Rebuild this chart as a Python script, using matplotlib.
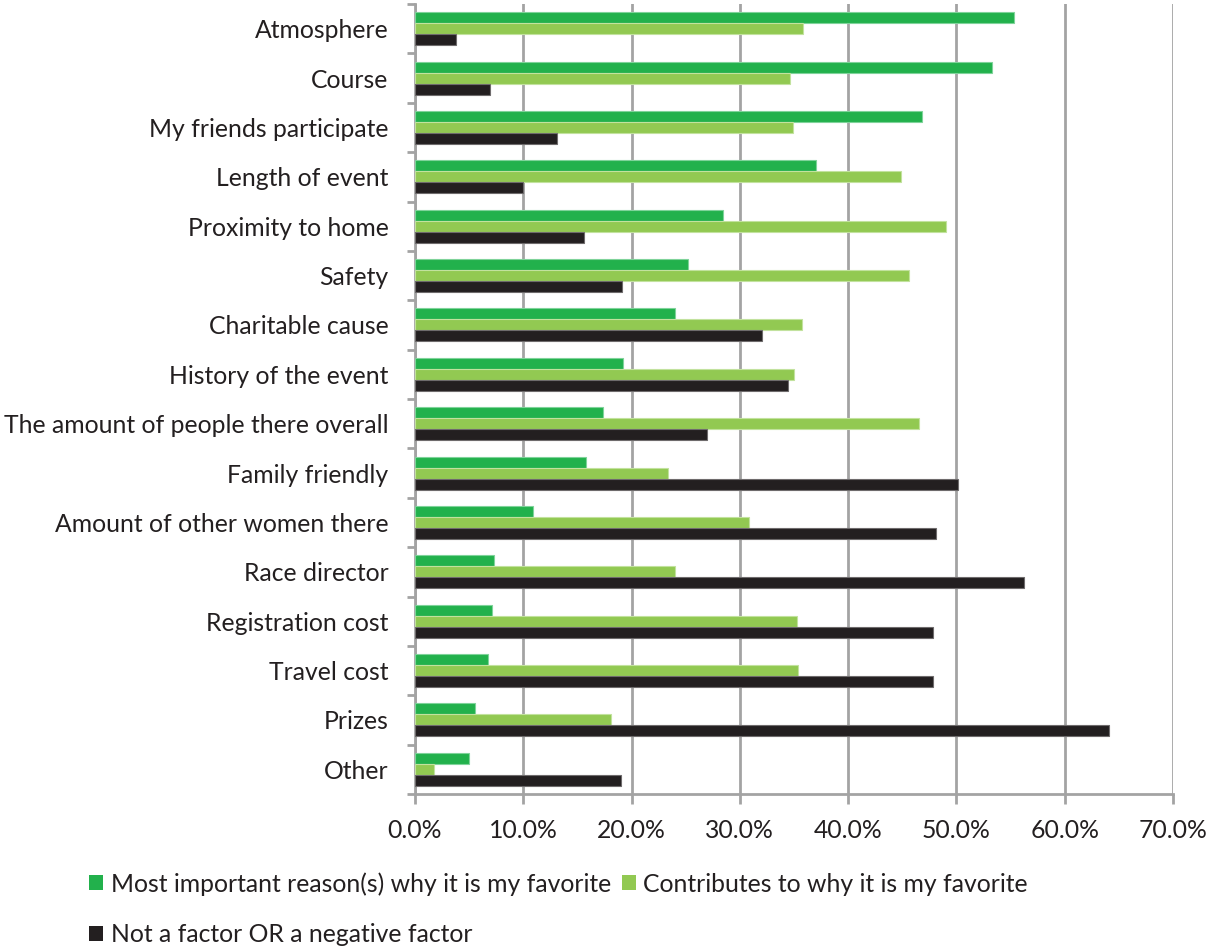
import matplotlib
matplotlib.use("Agg")
import matplotlib.pyplot as plt
import numpy as np
from matplotlib.patches import Patch
from matplotlib.ticker import FuncFormatter, FixedLocator

categories = [
    "Atmosphere", "Course", "My friends participate", "Length of event",
    "Proximity to home", "Safety", "Charitable cause", "History of the event",
    "The amount of people there overall", "Family friendly",
    "Amount of other women there", "Race director", "Registration cost",
    "Travel cost", "Prizes", "Other",
]
most_important = [55.3, 53.3, 46.8, 37.0, 28.4, 25.2, 24.0, 19.2, 17.4, 15.8,
                  10.9, 7.3, 7.1, 6.7, 5.5, 5.0]
contributes = [35.8, 34.6, 34.9, 44.9, 49.0, 45.6, 35.7, 35.0, 46.5, 23.4,
               30.8, 24.0, 35.3, 35.4, 18.1, 1.8]
not_a_factor = [3.8, 6.9, 13.1, 10.0, 15.6, 19.1, 32.0, 34.4, 27.0, 50.1,
                48.1, 56.2, 47.8, 47.8, 64.1, 19.0]
series_labels = [
    "Most important reason(s) why it is my favorite",
    "Contributes to why it is my favorite",
    "Not a factor OR a negative factor",
]
x_ticks = [0, 10, 20, 30, 40, 50, 60, 70]

colors = ["#22B14C", "#92C952", "#231F20"]
edges = ["#7FD39A", "#C2E29E", "#6E6B6C"]
grid_color = "#A3A3A3"

plt.rcParams["font.family"] = ["Lato", "DejaVu Sans"]
fs = 17.8

fig = plt.figure(figsize=(12.08, 9.48), dpi=100)
W, H = 1208, 948
ax = fig.add_axes([415 / W, 1 - 794 / H, (1173 - 415) / W, (794 - 4) / H])

y = np.arange(len(categories))
bw = 0.222
for k, (vals, col, ec) in enumerate(zip([most_important, contributes, not_a_factor], colors, edges)):
    ax.barh(y + (k - 1) * bw, vals, height=bw, color=col, edgecolor=ec,
            linewidth=0.8, zorder=3)

ax.set_xlim(0, 70)
ax.set_ylim(len(categories) - 0.5, -0.5)

ax.set_xticks(x_ticks)
ax.xaxis.set_major_formatter(FuncFormatter(lambda v, p: f"{v:.1f}%"))
ax.grid(axis="x", color=grid_color, linewidth=2, zorder=0)
ax.set_axisbelow(True)

ax.set_yticks(y)
ax.set_yticklabels(categories)
ax.yaxis.set_minor_locator(FixedLocator(np.arange(-0.5, len(categories), 1.0)))
ax.tick_params(axis="y", which="major", length=0, pad=19, labelsize=fs, colors="#231F20")
ax.tick_params(axis="y", which="minor", length=6, width=2, color=grid_color)
ax.tick_params(axis="x", which="major", length=7, width=2, color=grid_color,
               labelsize=fs, pad=11, labelcolor="#231F20")

for s in ["top", "right"]:
    ax.spines[s].set_visible(False)
for s in ["left", "bottom"]:
    ax.spines[s].set_color(grid_color)
    ax.spines[s].set_linewidth(2)

handles = [Patch(facecolor=c, edgecolor="none") for c in colors]
order = [0, 2, 1]
leg = fig.legend([handles[i] for i in order], [series_labels[i] for i in order],
                 loc="upper left", bbox_to_anchor=(89 / W, 1 - 872 / H), ncol=2,
                 frameon=False, fontsize=fs, handlelength=0.57, handleheight=0.57,
                 handletextpad=0.3, columnspacing=0.45, labelspacing=1.12,
                 borderpad=0, borderaxespad=0)
for t in leg.get_texts():
    t.set_color("#231F20")

fig.savefig("out.png", dpi=100)
